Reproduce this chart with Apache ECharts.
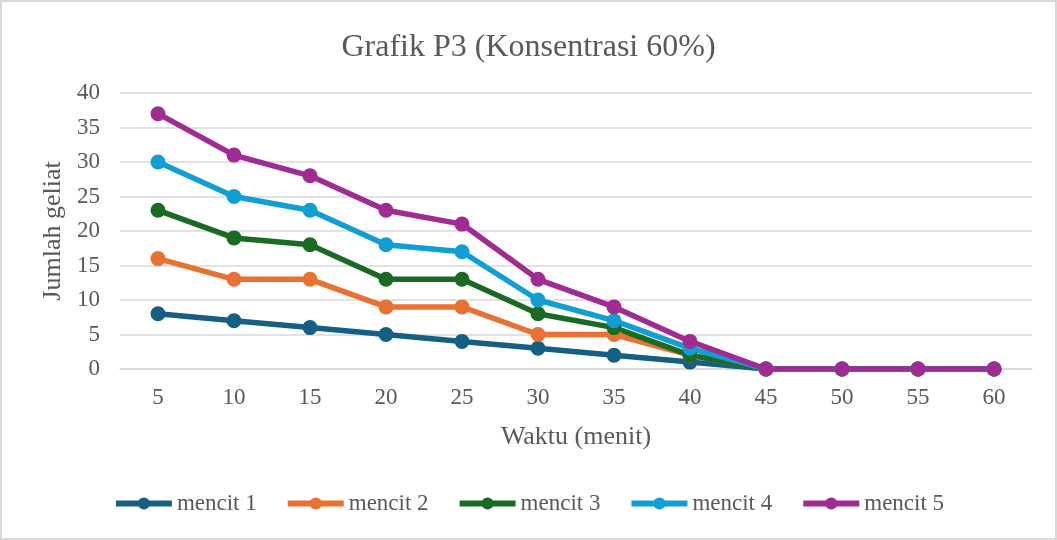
<!DOCTYPE html>
<html>
<head>
  <meta charset="utf-8" />
  <title>Grafik P3</title>
  <script src="https://cdn.jsdelivr.net/npm/echarts@6/dist/echarts.min.js"></script>
  <style>
    html, body { margin: 0; padding: 0; background: #fff; }
    #main { width: 1053px; height: 536px; border: 2px solid #d9d9d9; }
  </style>
</head>
<body>
  <div id="main"></div>
  <script>
    var waktu = ['5', '10', '15', '20', '25', '30', '35', '40', '45', '50', '55', '60'];
    var mencit1 = [8, 7, 6, 5, 4, 3, 2, 1, 0, 0, 0, 0];
    var mencit2 = [16, 13, 13, 9, 9, 5, 5, 2, 0, 0, 0, 0];
    var mencit3 = [23, 19, 18, 13, 13, 8, 6, 2, 0, 0, 0, 0];
    var mencit4 = [30, 25, 23, 18, 17, 10, 7, 3, 0, 0, 0, 0];
    var mencit5 = [37, 31, 28, 23, 21, 13, 9, 4, 0, 0, 0, 0];

    var names = ['mencit 1', 'mencit 2', 'mencit 3', 'mencit 4', 'mencit 5'];
    var colors = ['#156082', '#e97132', '#196b24', '#0f9ed5', '#a02b93'];
    var values = [mencit1, mencit2, mencit3, mencit4, mencit5];

    var font = '"Liberation Serif", "Times New Roman", serif';
    var chart = echarts.init(document.getElementById('main'));

    var series = names.map(function (n, i) {
      return {
        name: n,
        type: 'line',
        data: values[i],
        symbol: 'circle',
        symbolSize: 15,
        lineStyle: { width: 5.5, color: colors[i] },
        itemStyle: { color: colors[i] },
        animation: false
      };
    });

    chart.setOption({
      color: colors,
      title: {
        text: 'Grafik P3 (Konsentrasi 60%)',
        left: 'center',
        top: 25,
        textStyle: { fontFamily: font, fontSize: 32, fontWeight: 'normal', color: '#595959' }
      },
      legend: {
        bottom: 18,
        left: 'center',
        itemWidth: 56,
        itemHeight: 15,
        itemGap: 28,
        lineStyle: { width: 6 },
        textStyle: { fontFamily: font, fontSize: 23, color: '#595959' },
        data: names
      },
      grid: { left: 118, right: 23, top: 91, bottom: 169 },
      xAxis: {
        type: 'category',
        data: waktu,
        name: 'Waktu (menit)',
        nameLocation: 'middle',
        nameGap: 55,
        nameTextStyle: { fontFamily: font, fontSize: 26, color: '#595959' },
        axisLine: { lineStyle: { color: '#d9d9d9', width: 1.5 } },
        axisTick: { show: false },
        axisLabel: { fontFamily: font, fontSize: 23, color: '#595959', margin: 17 }
      },
      yAxis: {
        type: 'value',
        min: 0,
        max: 40,
        interval: 5,
        name: 'Jumlah geliat',
        nameLocation: 'middle',
        nameGap: 54,
        nameTextStyle: { fontFamily: font, fontSize: 26, color: '#595959' },
        axisLine: { show: false },
        axisTick: { show: false },
        splitLine: { lineStyle: { color: '#d9d9d9', width: 1.5 } },
        axisLabel: { fontFamily: font, fontSize: 23, color: '#595959', margin: 20 }
      },
      series: series
    });
  </script>
</body>
</html>
